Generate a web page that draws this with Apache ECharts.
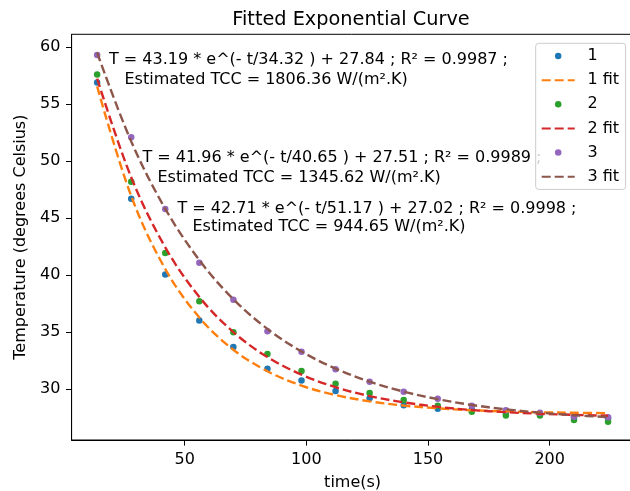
<!DOCTYPE html>
<html>
<head>
<meta charset="utf-8">
<script src="https://cdn.jsdelivr.net/npm/echarts@6.0.0/dist/echarts.min.js"></script>
<style>
html,body{margin:0;padding:0;background:#fff;}
#chart{width:630px;height:491px;}
</style>
</head>
<body>
<div id="chart"></div>
<script>
// ---- data ----
var times = [14, 28, 42, 56, 70, 84, 98, 112, 126, 140, 154, 168, 182, 196, 210, 224];

var run1 = [56.9, 46.7, 40.05, 36.03, 33.7, 31.79, 30.77, 29.85, 29.2, 28.6, 28.28, 28.2, 27.95, 27.85, 27.55, 27.45];
var run2 = [57.6, 48.2, 41.95, 37.72, 35.0, 33.1, 31.59, 30.48, 29.67, 29.06, 28.56, 28.02, 27.7, 27.7, 27.3, 27.15];
var run3 = [59.3, 52.1, 45.8, 41.1, 37.85, 35.09, 33.29, 31.76, 30.66, 29.79, 29.16, 28.56, 28.15, 27.93, 27.58, 27.55];

var fit1 = [56.56, 46.94, 40.54, 36.29, 33.46, 31.58, 30.32, 29.49, 28.94, 28.57, 28.33, 28.16, 28.06, 27.98, 27.94, 27.90];
var fit2 = [57.24, 48.58, 42.44, 38.09, 35.01, 32.82, 31.28, 30.18, 29.40, 28.85, 28.46, 28.18, 27.99, 27.85, 27.75, 27.68];
var fit3 = [59.51, 51.73, 45.82, 41.32, 37.89, 35.29, 33.31, 31.81, 30.66, 29.79, 29.13, 28.62, 28.24, 27.95, 27.72, 27.56];

var seriesNames = ['1', '1 fit', '2', '2 fit', '3', '3 fit'];
var xTicks = [50, 100, 150, 200];
var yTicks = [30, 35, 40, 45, 50, 55, 60];

var annotations = [
  ['T = 43.19 * e^(- t/34.32 ) + 27.84 ; R\u00b2 = 0.9987 ;', 'Estimated TCC = 1806.36 W/(m\u00b2.K)'],
  ['T = 41.96 * e^(- t/40.65 ) + 27.51 ; R\u00b2 = 0.9989 ;', 'Estimated TCC = 1345.62 W/(m\u00b2.K)'],
  ['T = 42.71 * e^(- t/51.17 ) + 27.02 ; R\u00b2 = 0.9998 ;', 'Estimated TCC = 944.65 W/(m\u00b2.K)']
];
// ------------------------------------------------

function pairs(xs, ys) {
  return xs.map(function (x, i) { return [x, ys[i]]; });
}

var FONT = 'DejaVu Sans';
var FS = 16;
var colors = ['#1f77b4', '#ff7f0e', '#2ca02c', '#d62728', '#9467bd', '#8c564b'];

function scatterSeries(name, ys, color) {
  return {
    name: name, type: 'scatter', data: pairs(times, ys),
    symbol: 'circle', symbolSize: 6.5,
    itemStyle: { color: color, opacity: 1 }
  };
}
function fitSeries(name, ys, color) {
  return {
    name: name, type: 'line', data: pairs(times, ys),
    symbol: 'none', showSymbol: false,
    smooth: 0.35,
    lineStyle: { color: color, width: 2.4, type: [9, 4] },
    itemStyle: { color: color }
  };
}

var annPos = [
  [[109, 59.5], [124.5, 79.5]],
  [[142.5, 158], [157.5, 177.5]],
  [[177.5, 209], [192.5, 227]]
];
var graphics = [];
annotations.forEach(function (lines, i) {
  lines.forEach(function (txt, j) {
    graphics.push({
      type: 'text', z: 1,
      x: annPos[i][j][0], y: annPos[i][j][1],
      style: {
        text: txt, fill: '#000', font: FS + 'px "' + FONT + '"',
        textVerticalAlign: 'middle', textAlign: 'left'
      }
    });
  });
});

var legendData = seriesNames.map(function (n, i) {
  return i % 2 === 1 ? { name: n, itemStyle: { opacity: 0 } } : { name: n };
});

var chart = echarts.init(document.getElementById('chart'), null, { renderer: 'canvas' });
chart.setOption({
  animation: false,
  backgroundColor: '#fff',
  title: {
    text: 'Fitted Exponential Curve',
    left: 351, top: 10, textAlign: 'center', padding: 0,
    textStyle: { fontFamily: FONT, fontSize: 19.3, fontWeight: 'normal', color: '#000' }
  },
  grid: {
    left: 71.6, top: 34.3, width: 562, height: 405.7,
    show: true, borderColor: '#000', borderWidth: 1, backgroundColor: 'transparent',
    containLabel: false, outerBoundsMode: 'none'
  },
  legend: {
    orient: 'vertical', left: 535.7, top: 43.3,
    padding: [3.7, 6.5, 3.7, 5],
    itemWidth: 33, itemHeight: 6.5, itemGap: 6.15,
    backgroundColor: 'rgba(255,255,255,0.8)',
    borderColor: '#cccccc', borderWidth: 1, borderRadius: 3,
    data: legendData,
    textStyle: { fontFamily: FONT, fontSize: FS, color: '#000', lineHeight: 18, padding: [0, 0, 0, 7.8] },
    z: 10
  },
  xAxis: {
    type: 'value', min: 3.5, max: 234.5,
    name: 'time(s)', nameLocation: 'middle', nameGap: 35,
    nameTextStyle: { fontFamily: FONT, fontSize: FS, color: '#000' },
    axisLine: { show: true, lineStyle: { color: '#000', width: 1 } },
    axisTick: { show: true, length: 5.6, lineStyle: { color: '#000', width: 1 }, customValues: xTicks },
    axisLabel: { customValues: xTicks, margin: 12, fontFamily: FONT, fontSize: FS, color: '#000' },
    splitLine: { show: false }
  },
  yAxis: {
    type: 'value', min: 25.55, max: 61.12,
    name: 'Temperature (degrees Celsius)', nameLocation: 'middle', nameGap: 36,
    nameTextStyle: { fontFamily: FONT, fontSize: FS, color: '#000' },
    axisLine: { show: true, lineStyle: { color: '#000', width: 1 } },
    axisTick: { show: true, length: 5.6, lineStyle: { color: '#000', width: 1 }, customValues: yTicks },
    axisLabel: { customValues: yTicks, margin: 11.2, fontFamily: FONT, fontSize: FS, color: '#000' },
    splitLine: { show: false }
  },
  graphic: graphics,
  series: [
    scatterSeries(seriesNames[0], run1, colors[0]),
    fitSeries(seriesNames[1], fit1, colors[1]),
    scatterSeries(seriesNames[2], run2, colors[2]),
    fitSeries(seriesNames[3], fit2, colors[3]),
    scatterSeries(seriesNames[4], run3, colors[4]),
    fitSeries(seriesNames[5], fit3, colors[5])
  ]
});
</script>
</body>
</html>
